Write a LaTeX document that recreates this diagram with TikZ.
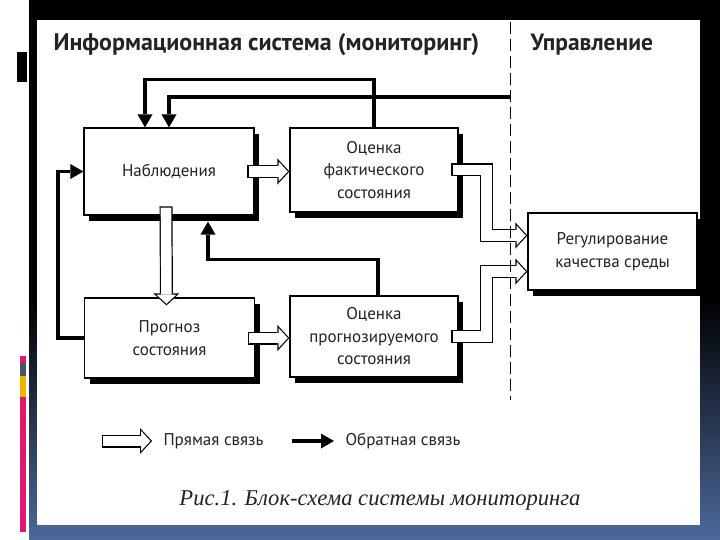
\documentclass[tikz,border=0pt]{standalone}
\usepackage{fontspec}
\setmainfont{PT Sans}
\newfontfamily\capfont{Liberation Serif}
\usetikzlibrary{arrows.meta,shadows}
\definecolor{slideblue}{RGB}{77,105,155}
\definecolor{barpink}{RGB}{224,24,112}
\definecolor{baryel}{RGB}{240,180,0}
\definecolor{bargray}{RGB}{72,86,100}
\definecolor{ink}{RGB}{35,35,35}
\begin{document}
\begin{tikzpicture}[x=1pt,y=-1pt,line join=miter,
blok/.style={draw,line width=1.2pt,fill=white,inner sep=0pt,minimum width=170pt,minimum height=87pt,align=center,text=ink,font=\fontsize{17}{22.5}\selectfont,drop shadow={shadow xshift=5pt,shadow yshift=-6pt,fill=black,opacity=1}},
fb/.style={line width=3.2pt,line cap=butt,-{Triangle[length=13pt,width=15pt,line width=0pt]}},
fwd/.style={line width=13pt,line cap=butt,shorten <=-1.2pt,-{Triangle[length=12pt,width=26pt,line width=0pt]},
  postaction={draw=white,line width=10.6pt,shorten <=0pt,shorten >=1.63pt,-{Triangle[length=9.17pt,width=19.9pt,line width=0pt]}}},
hdr/.style={anchor=west,font=\fontsize{24}{28}\selectfont\bfseries,text=ink},
lgd/.style={anchor=west,font=\fontsize{17}{20}\selectfont,text=ink}]
\useasboundingbox (0,0) rectangle (720,540);
\fill[white] (0,0) rectangle (720,540);
\fill[black] (29,0) rectangle (720,540);
\shade[top color=black,bottom color=slideblue] (29,300) rectangle (720,540);
\fill[white] (37,20) rectangle (700,525);
\fill[black] (17,52) rectangle (27,82);
\foreach \a/\b/\c in {356/363/barpink,363/376/bargray,376/397/baryel,397/532/barpink}
  \fill[\c] (20,\a) rectangle (26,\b);
\path
(510,22) coordinate (dtop)
(510,400) coordinate (dbot)
(510,97) coordinate (ctl)
(103,441) coordinate (lg1)
(152,441) coordinate (lg2)
(292,441) coordinate (lg3)
(334,441) coordinate (lg4)
;
\node[hdr] (tinf) at (50,45) {Информационная система (мониторинг)};
\node[hdr,font=\fontsize{23.5}{28}\selectfont\bfseries] (tupr) at (527,45) {Управление};
\node[blok] (nab) at (169,171.5) {Наблюдения};
\node[blok,minimum width=168pt,minimum height=84pt] (ocf) at (374,170) {Оценка\\фактического\\состояния};
\node[blok,minimum height=80pt] (prg) at (169.5,338) {Прогноз\\состояния};
\node[blok,minimum width=168pt,minimum height=81pt] (ocp) at (374,336.5) {Оценка\\прогнозируемого\\состояния};
\node[blok,minimum width=169pt,minimum height=77pt] (reg) at (612.5,251.5) {Регулирование\\качества среды};
\draw[fwd] ([xshift=-6pt]nab.east) -- (nab.east -| ocf.west);
\draw[fwd] ([xshift=-3pt,yshift=8pt]nab.south) -- ([xshift=-3pt,yshift=-8pt]prg.north);
\draw[fwd] ([xshift=-6pt]prg.east) -- (prg.east -| ocp.west);
\draw[fwd] ([xshift=-6pt]ocf.east) -- ++(34,0) |- ([yshift=16pt]reg.west);
\draw[fwd] ([xshift=-6pt]ocp.east) -- ++(34,0) |- ([yshift=-20pt]reg.west);
\draw[fb] (ocf.north) -- ++(0,-48) -| ([xshift=-24pt]nab.north);
\draw[fb] (ctl) -| (nab.north);
\draw[fb] (prg.west) -- ++(-26,0) |- (nab.west);
\draw[fb] ([xshift=4pt]ocp.north) -- ++(0,-36) -| ([xshift=39pt,yshift=-6pt]nab.south);
\draw[line width=1pt,dash pattern=on 12pt off 5pt] (dtop) -- (dbot);
\draw[fwd] (lg1) -- (lg2);
\node[lgd] (lpr) at (160,441) {Прямая связь};
\draw[fb] (lg3) -- (lg4);
\node[lgd] (lob) at (342,441) {Обратная связь};
\node[font=\capfont\itshape\fontsize{22.6}{26}\selectfont,text=ink] (cap) at (380,500) {Рис.1. Блок-схема системы мониторинга};
\end{tikzpicture}
\end{document}
